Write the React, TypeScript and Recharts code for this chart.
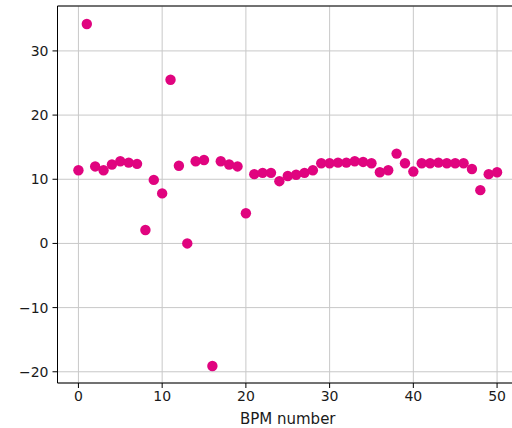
import React from "react";
import {
  ScatterChart,
  Scatter,
  XAxis,
  YAxis,
  CartesianGrid,
  ReferenceLine,
} from "recharts";

const bpmIndex: number[] = [
  0, 1, 2, 3, 4, 5, 6, 7, 8, 9, 10, 11, 12, 13, 14, 15, 16, 17, 18, 19, 20,
  21, 22, 23, 24, 25, 26, 27, 28, 29, 30, 31, 32, 33, 34, 35, 36, 37, 38, 39,
  40, 41, 42, 43, 44, 45, 46, 47, 48, 49, 50,
];

const bpmValue: number[] = [
  11.4, 34.2, 12.0, 11.4, 12.3, 12.8, 12.6, 12.4, 2.1, 9.9, 7.8, 25.5, 12.1,
  0.0, 12.8, 13.0, -19.1, 12.8, 12.3, 12.0, 4.7, 10.8, 11.0, 11.0, 9.7, 10.5,
  10.7, 11.0, 11.4, 12.5, 12.5, 12.6, 12.6, 12.8, 12.7, 12.5, 11.1, 11.4, 14.0,
  12.5, 11.2, 12.5, 12.5, 12.6, 12.5, 12.5, 12.5, 11.6, 8.3, 10.8, 11.1,
];

const xTicks: number[] = [0, 10, 20, 30, 40, 50];
const yTicks: number[] = [-20, -10, 0, 10, 20, 30];

const data = bpmIndex.map((x, i) => ({ x, y: bpmValue[i] }));

const X_MIN = -2.5;
const X_MAX = 52.5;
const Y_MIN = -21.75;
const Y_MAX = 37.0;

const font = "'DejaVu Sans', sans-serif";
const fmt = (v: number) => String(v).replace("-", "\u2212");

export default function App() {
  return (
    <div
      style={{
        position: "absolute",
        left: 0,
        top: 0,
        width: 512,
        height: 428,
        overflow: "hidden",
        background: "#fff",
      }}
    >
      <ScatterChart
        width={530}
        height={428}
        margin={{ top: 6, right: 12, bottom: 0, left: 0 }}
      >
        <CartesianGrid stroke="#c8c8c8" strokeWidth={1} />
        <XAxis
          type="number"
          dataKey="x"
          domain={[X_MIN, X_MAX]}
          ticks={xTicks}
          allowDataOverflow
          height={45}
          tickSize={5}
          tickMargin={3}
          stroke="#000"
          tickFormatter={fmt}
          tick={{ fill: "#1a1a1a", fontSize: 14, fontFamily: font }}
          label={{
            value: "BPM number",
            position: "insideBottom",
            offset: 4,
            fill: "#1a1a1a",
            fontSize: 15,
            fontFamily: font,
          }}
        />
        <YAxis
          type="number"
          dataKey="y"
          domain={[Y_MIN, Y_MAX]}
          ticks={yTicks}
          allowDataOverflow
          width={57.5}
          tickSize={5}
          tickMargin={4}
          stroke="#000"
          tickFormatter={fmt}
          tick={{ fill: "#1a1a1a", fontSize: 14, fontFamily: font }}
        />
        <ReferenceLine y={Y_MAX} stroke="#000" strokeWidth={1} />
        <ReferenceLine x={X_MAX} stroke="#000" strokeWidth={1} />
        <Scatter
          data={data}
          fill="#e0047f"
          isAnimationActive={false}
          shape={(props: any) => (
            <circle cx={props.cx} cy={props.cy} r={5.2} fill="#e0047f" />
          )}
        />
      </ScatterChart>
    </div>
  );
}
